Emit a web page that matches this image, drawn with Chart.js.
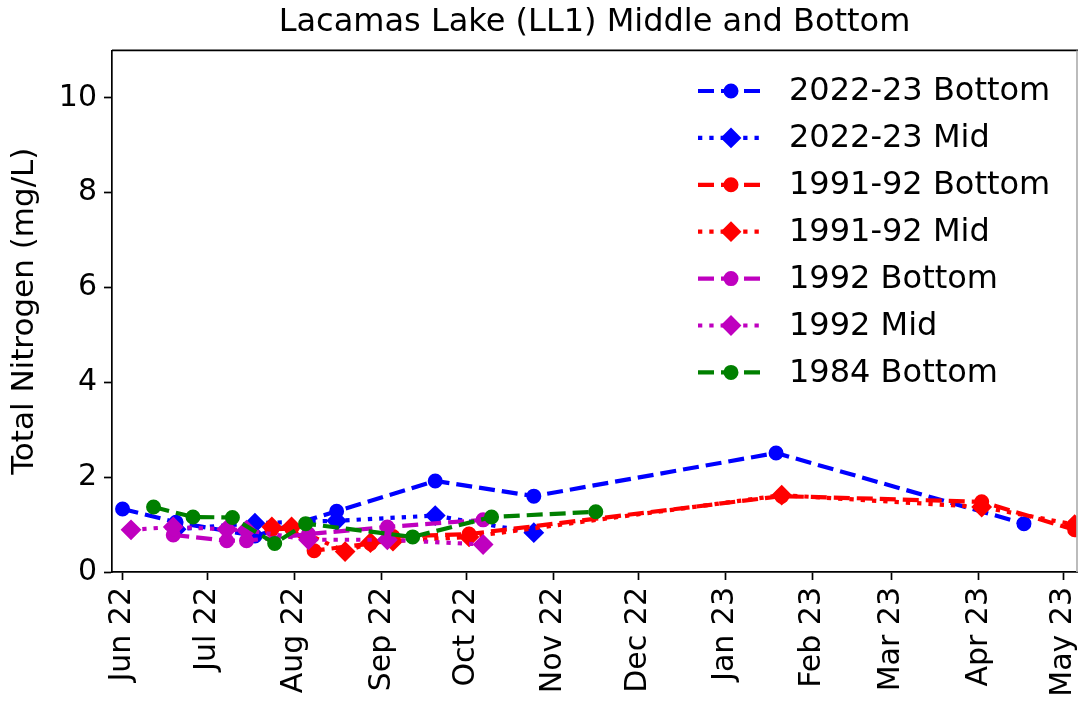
<!DOCTYPE html>
<html>
<head>
<meta charset="utf-8">
<script src="https://cdn.jsdelivr.net/npm/chart.js@4.4.1/dist/chart.umd.min.js"></script>
<style>
  body { margin: 0; background: #fff; }
  canvas { display: block; }
</style>
</head>
<body>
<canvas id="nitrogenChart" width="1078" height="711"></canvas>
<script>
// values (mg/L)
var bottom2223Dates = ['2022-06-01', '2022-06-20', '2022-07-18', '2022-08-16', '2022-09-20', '2022-10-25', '2023-01-19', '2023-04-17'];
var bottom2223Values = [1.33, 1.05, 0.76, 1.28, 1.92, 1.60, 2.51, 1.02];

var mid2223Dates = ['2022-06-20', '2022-07-18', '2022-08-16', '2022-09-20', '2022-10-25'];
var mid2223Values = [0.90, 1.03, 1.08, 1.19, 0.83];

var bottom9192Dates = ['2022-07-24', '2022-07-31', '2022-08-08', '2022-08-28', '2022-09-05', '2022-10-02', '2023-01-21', '2023-04-02', '2023-05-05'];
var bottom9192Values = [0.90, 0.92, 0.45, 0.60, 0.75, 0.80, 1.60, 1.48, 0.89];

var mid9192Dates = ['2022-07-24', '2022-07-31', '2022-08-19', '2022-08-28', '2022-09-05', '2022-10-02', '2023-01-21', '2023-04-02', '2023-05-05'];
var mid9192Values = [0.95, 0.95, 0.43, 0.62, 0.65, 0.74, 1.62, 1.37, 1.00];

var bottom1992Dates = ['2022-06-19', '2022-07-08', '2022-07-15', '2022-08-06', '2022-09-03', '2022-10-07'];
var bottom1992Values = [0.78, 0.66, 0.66, 0.80, 0.95, 1.10];

var mid1992Dates = ['2022-06-04', '2022-06-19', '2022-07-08', '2022-07-15', '2022-08-06', '2022-09-03', '2022-10-07'];
var mid1992Values = [0.89, 0.95, 0.90, 0.88, 0.68, 0.68, 0.58];

var bottom1984Dates = ['2022-06-12', '2022-06-26', '2022-07-10', '2022-07-25', '2022-08-05', '2022-09-12', '2022-10-10', '2022-11-16'];
var bottom1984Values = [1.37, 1.16, 1.15, 0.60, 1.02, 0.74, 1.16, 1.27];

var seriesLabels = ['2022-23 Bottom', '2022-23 Mid', '1991-92 Bottom', '1991-92 Mid', '1992 Bottom', '1992 Mid', '1984 Bottom'];

var tickDates = ['2022-06-01', '2022-07-01', '2022-08-01', '2022-09-01', '2022-10-01', '2022-11-01',
                 '2022-12-01', '2023-01-01', '2023-02-01', '2023-03-01', '2023-04-01', '2023-05-01'];
var tickLabels = ['Jun 22', 'Jul 22', 'Aug 22', 'Sep 22', 'Oct 22', 'Nov 22',
                  'Dec 22', 'Jan 23', 'Feb 23', 'Mar 23', 'Apr 23', 'May 23'];
var yTicks = [0, 2, 4, 6, 8, 10];

var FONT = 'DejaVu Sans';
var DASHED = [16, 7];
var DOTTED = [4.3, 7];

function toPoints(dates, values) {
    return dates.map(function (d, i) {
        return { x: Date.parse(d), y: values[i] };
    });
}

function makeSet(label, dates, values, color, dash, style, order) {
    var diamond = style === 'rectRot';
    return {
        label: label,
        data: toPoints(dates, values),
        borderColor: color,
        backgroundColor: color,
        borderWidth: 4.2,
        borderDash: dash,
        pointStyle: style,
        pointRadius: diamond ? 9 : 6.5,
        pointBorderWidth: 2,
        pointBackgroundColor: color,
        pointBorderColor: color,
        tension: 0,
        fill: false,
        order: order
    };
}

var datasets = [
    makeSet(seriesLabels[0], bottom2223Dates, bottom2223Values, '#0000ff', DASHED, 'circle', 7),
    makeSet(seriesLabels[1], mid2223Dates, mid2223Values, '#0000ff', DOTTED, 'rectRot', 6),
    makeSet(seriesLabels[2], bottom9192Dates, bottom9192Values, '#ff0000', DASHED, 'circle', 5),
    makeSet(seriesLabels[3], mid9192Dates, mid9192Values, '#ff0000', DOTTED, 'rectRot', 4),
    makeSet(seriesLabels[4], bottom1992Dates, bottom1992Values, '#bf00bf', DASHED, 'circle', 3),
    makeSet(seriesLabels[5], mid1992Dates, mid1992Values, '#bf00bf', DOTTED, 'rectRot', 2),
    makeSet(seriesLabels[6], bottom1984Dates, bottom1984Values, '#008000', DASHED, 'circle', 1)
];

// top and right spines like the original axes box
var axesFrame = {
    id: 'axesFrame',
    afterDraw: function (chart) {
        var a = chart.chartArea, c = chart.ctx;
        c.save();
        c.strokeStyle = '#000';
        c.lineWidth = 1.7;
        c.beginPath();
        c.moveTo(a.left, a.top);
        c.lineTo(a.right + 1, a.top);
        c.stroke();
        c.strokeStyle = '#b0b0b0';
        c.beginPath();
        c.moveTo(a.right, a.top);
        c.lineTo(a.right, a.bottom);
        c.stroke();
        c.restore();
    }
};

// legend drawn inside the plot, upper right, no frame
var insideLegend = {
    id: 'insideLegend',
    afterDraw: function (chart) {
        var c = chart.ctx;
        var sets = chart.data.datasets;
        c.save();
        for (var i = 0; i < sets.length; i++) {
            var ds = sets[i];
            var y = 91 + i * 46.9;
            c.strokeStyle = ds.borderColor;
            c.lineWidth = ds.borderWidth;
            c.setLineDash(ds.borderDash);
            c.lineDashOffset = 0;
            c.beginPath();
            c.moveTo(698, y);
            c.lineTo(764, y);
            c.stroke();
            c.setLineDash([]);
            c.fillStyle = ds.pointBackgroundColor;
            c.strokeStyle = ds.pointBorderColor;
            c.lineWidth = ds.pointBorderWidth;
            Chart.helpers.drawPoint(c, {
                pointStyle: ds.pointStyle,
                radius: ds.pointRadius,
                rotation: 0,
                borderWidth: ds.pointBorderWidth
            }, 731, y);
            c.fillStyle = '#000';
            c.font = '32px "' + FONT + '"';
            c.textAlign = 'left';
            c.textBaseline = 'middle';
            c.fillText(ds.label, 789, y + 1);
        }
        c.restore();
    }
};

var ctx = document.getElementById('nitrogenChart').getContext('2d');
new Chart(ctx, {
    type: 'line',
    data: { datasets: datasets },
    options: {
        responsive: false,
        animation: false,
        layout: { autoPadding: false, padding: { left: 0, right: 1, top: 0, bottom: 0 } },
        plugins: {
            legend: { display: false },
            tooltip: { enabled: false },
            title: {
                display: true,
                text: 'Lacamas Lake (LL1) Middle and Bottom',
                fullSize: false,
                color: '#000',
                font: { family: FONT, size: 32, weight: 'normal' },
                padding: { top: 3, bottom: 9 }
            }
        },
        scales: {
            x: {
                type: 'linear',
                min: Date.UTC(2022, 4, 28, 6),
                max: Date.UTC(2023, 4, 5, 20),
                afterFit: function (scale) {
                    scale.height = 139;
                    scale.paddingLeft = 0;
                    scale.paddingRight = 0;
                },
                afterBuildTicks: function (scale) {
                    scale.ticks = tickDates.map(function (d) { return { value: Date.parse(d) }; });
                },
                ticks: {
                    autoSkip: false,
                    minRotation: 90,
                    maxRotation: 90,
                    padding: 7,
                    color: '#000',
                    font: { family: FONT, size: 30 },
                    callback: function (value) {
                        var k = tickDates.map(function (d) { return Date.parse(d); }).indexOf(value);
                        return k >= 0 ? tickLabels[k] : '';
                    }
                },
                grid: { drawOnChartArea: false, tickLength: 8, tickWidth: 1.7, tickColor: '#000' },
                border: { color: '#000', width: 1.7 }
            },
            y: {
                min: 0,
                max: 11,
                afterFit: function (scale) {
                    scale.width = 112;
                    scale.paddingTop = 0;
                    scale.paddingBottom = 0;
                },
                afterBuildTicks: function (scale) {
                    scale.ticks = yTicks.map(function (v) { return { value: v }; });
                },
                ticks: {
                    padding: 7,
                    color: '#000',
                    font: { family: FONT, size: 30 }
                },
                title: {
                    display: true,
                    text: 'Total Nitrogen (mg/L)',
                    color: '#000',
                    font: { family: FONT, size: 31 },
                    padding: { top: 6, bottom: 0 }
                },
                grid: { drawOnChartArea: false, tickLength: 8, tickWidth: 1.7, tickColor: '#000' },
                border: { color: '#000', width: 1.7 }
            }
        }
    },
    plugins: [axesFrame, insideLegend]
});
</script>
</body>
</html>
